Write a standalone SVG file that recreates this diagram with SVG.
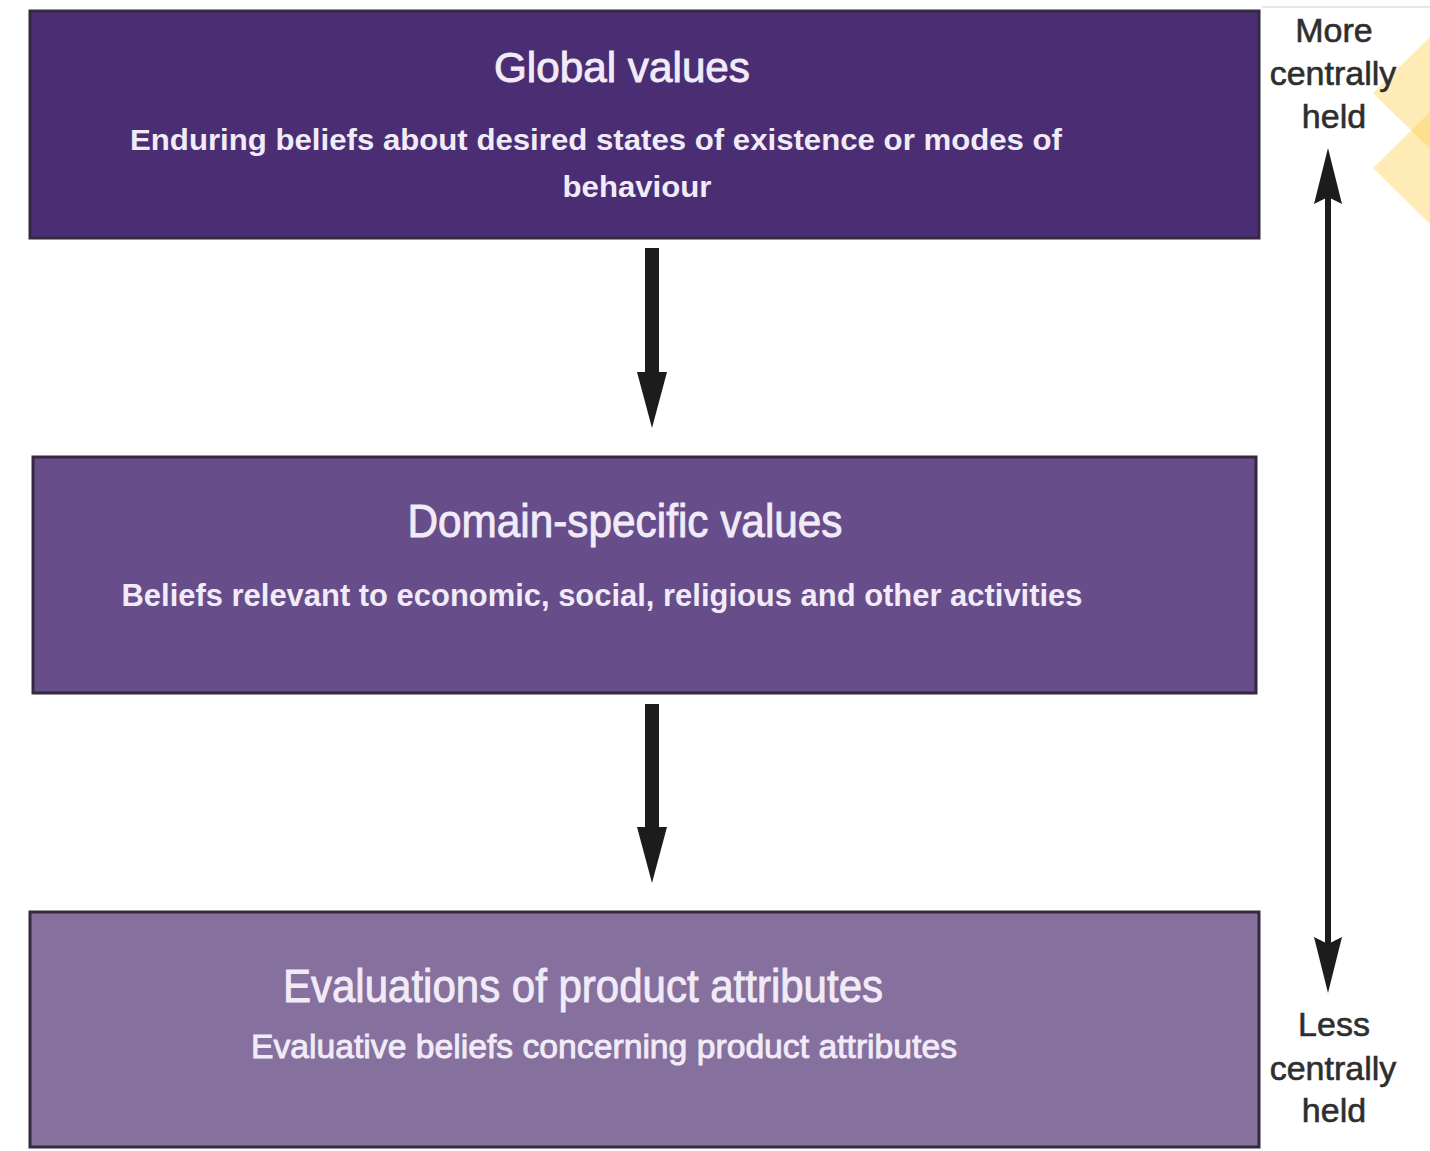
<svg xmlns="http://www.w3.org/2000/svg" width="1430" height="1151" viewBox="0 0 1430 1151">
  <style>
    .box { stroke: #35293f; stroke-width: 3; }
    .title { font-family: "Liberation Sans", Arial, sans-serif; fill: #f1ebf8; stroke: #f1ebf8; stroke-width: 0.9; text-anchor: middle; }
    .sub { font-family: "Liberation Sans", Arial, sans-serif; font-weight: bold; fill: #f1ebf8; text-anchor: middle; }
    .side { font-family: "Liberation Sans", Arial, sans-serif; fill: #2e2e2e; text-anchor: middle; font-size: 34px; stroke: #2e2e2e; stroke-width: 0.6; }
    .conn { stroke: #1c1c1c; fill: none; }
    .head { fill: #1c1c1c; }
  </style>

  <rect width="1430" height="1151" fill="#ffffff"/>
  <line x1="1262" y1="7" x2="1430" y2="7" stroke="#e6e6e6" stroke-width="2"/>

  <!-- decorative diamonds at the right edge -->
  <g id="diamonds" fill="#fcd35a" fill-opacity="0.45">
    <polygon points="1373,93 1430,37 1430,149"/>
    <polygon points="1373,168 1430,112 1430,224"/>
  </g>

  <g id="node-global">
    <rect class="box" x="30" y="11" width="1229" height="227" fill="#4b2d73"/>
    <text class="title" x="622" y="82" font-size="42" textLength="256" lengthAdjust="spacingAndGlyphs">Global values</text>
    <text class="sub" x="596" y="150" font-size="30" textLength="932" lengthAdjust="spacingAndGlyphs">Enduring beliefs about desired states of existence or modes of</text>
    <text class="sub" x="637" y="197" font-size="30" textLength="149" lengthAdjust="spacingAndGlyphs">behaviour</text>
  </g>

  <g id="node-domain">
    <rect class="box" x="33" y="457" width="1223" height="236" fill="#674d89"/>
    <text class="title" x="625" y="537" font-size="46" textLength="435" lengthAdjust="spacingAndGlyphs">Domain-specific values</text>
    <text class="sub" x="602" y="606" font-size="31" textLength="961" lengthAdjust="spacingAndGlyphs">Beliefs relevant to economic, social, religious and other activities</text>
  </g>

  <g id="node-evaluations">
    <rect class="box" x="30" y="912" width="1229" height="235" fill="#86709e"/>
    <text class="title" x="583" y="1002" font-size="46" textLength="600" lengthAdjust="spacingAndGlyphs">Evaluations of product attributes</text>
    <text class="title" x="604" y="1058" font-size="34" textLength="706" lengthAdjust="spacingAndGlyphs">Evaluative beliefs concerning product attributes</text>
  </g>

  <g id="connectors">
    <line class="conn" x1="652" y1="248" x2="652" y2="380" stroke-width="14"/>
    <polygon class="head" points="637,372 667,372 652,428"/>
    <line class="conn" x1="652" y1="704" x2="652" y2="835" stroke-width="14"/>
    <polygon class="head" points="637,827 667,827 652,883"/>
    <line class="conn" x1="1328" y1="190" x2="1328" y2="950" stroke-width="6"/>
    <polygon class="head" points="1328,148 1342,204 1328,197 1314,204"/>
    <polygon class="head" points="1328,993 1342,937 1328,944 1314,937"/>
  </g>

  <g id="label-more">
    <text class="side" x="1334" y="42">More</text>
    <text class="side" x="1333" y="85">centrally</text>
    <text class="side" x="1334" y="128">held</text>
  </g>
  <g id="label-less">
    <text class="side" x="1334" y="1036">Less</text>
    <text class="side" x="1333" y="1080">centrally</text>
    <text class="side" x="1334" y="1122">held</text>
  </g>
</svg>
